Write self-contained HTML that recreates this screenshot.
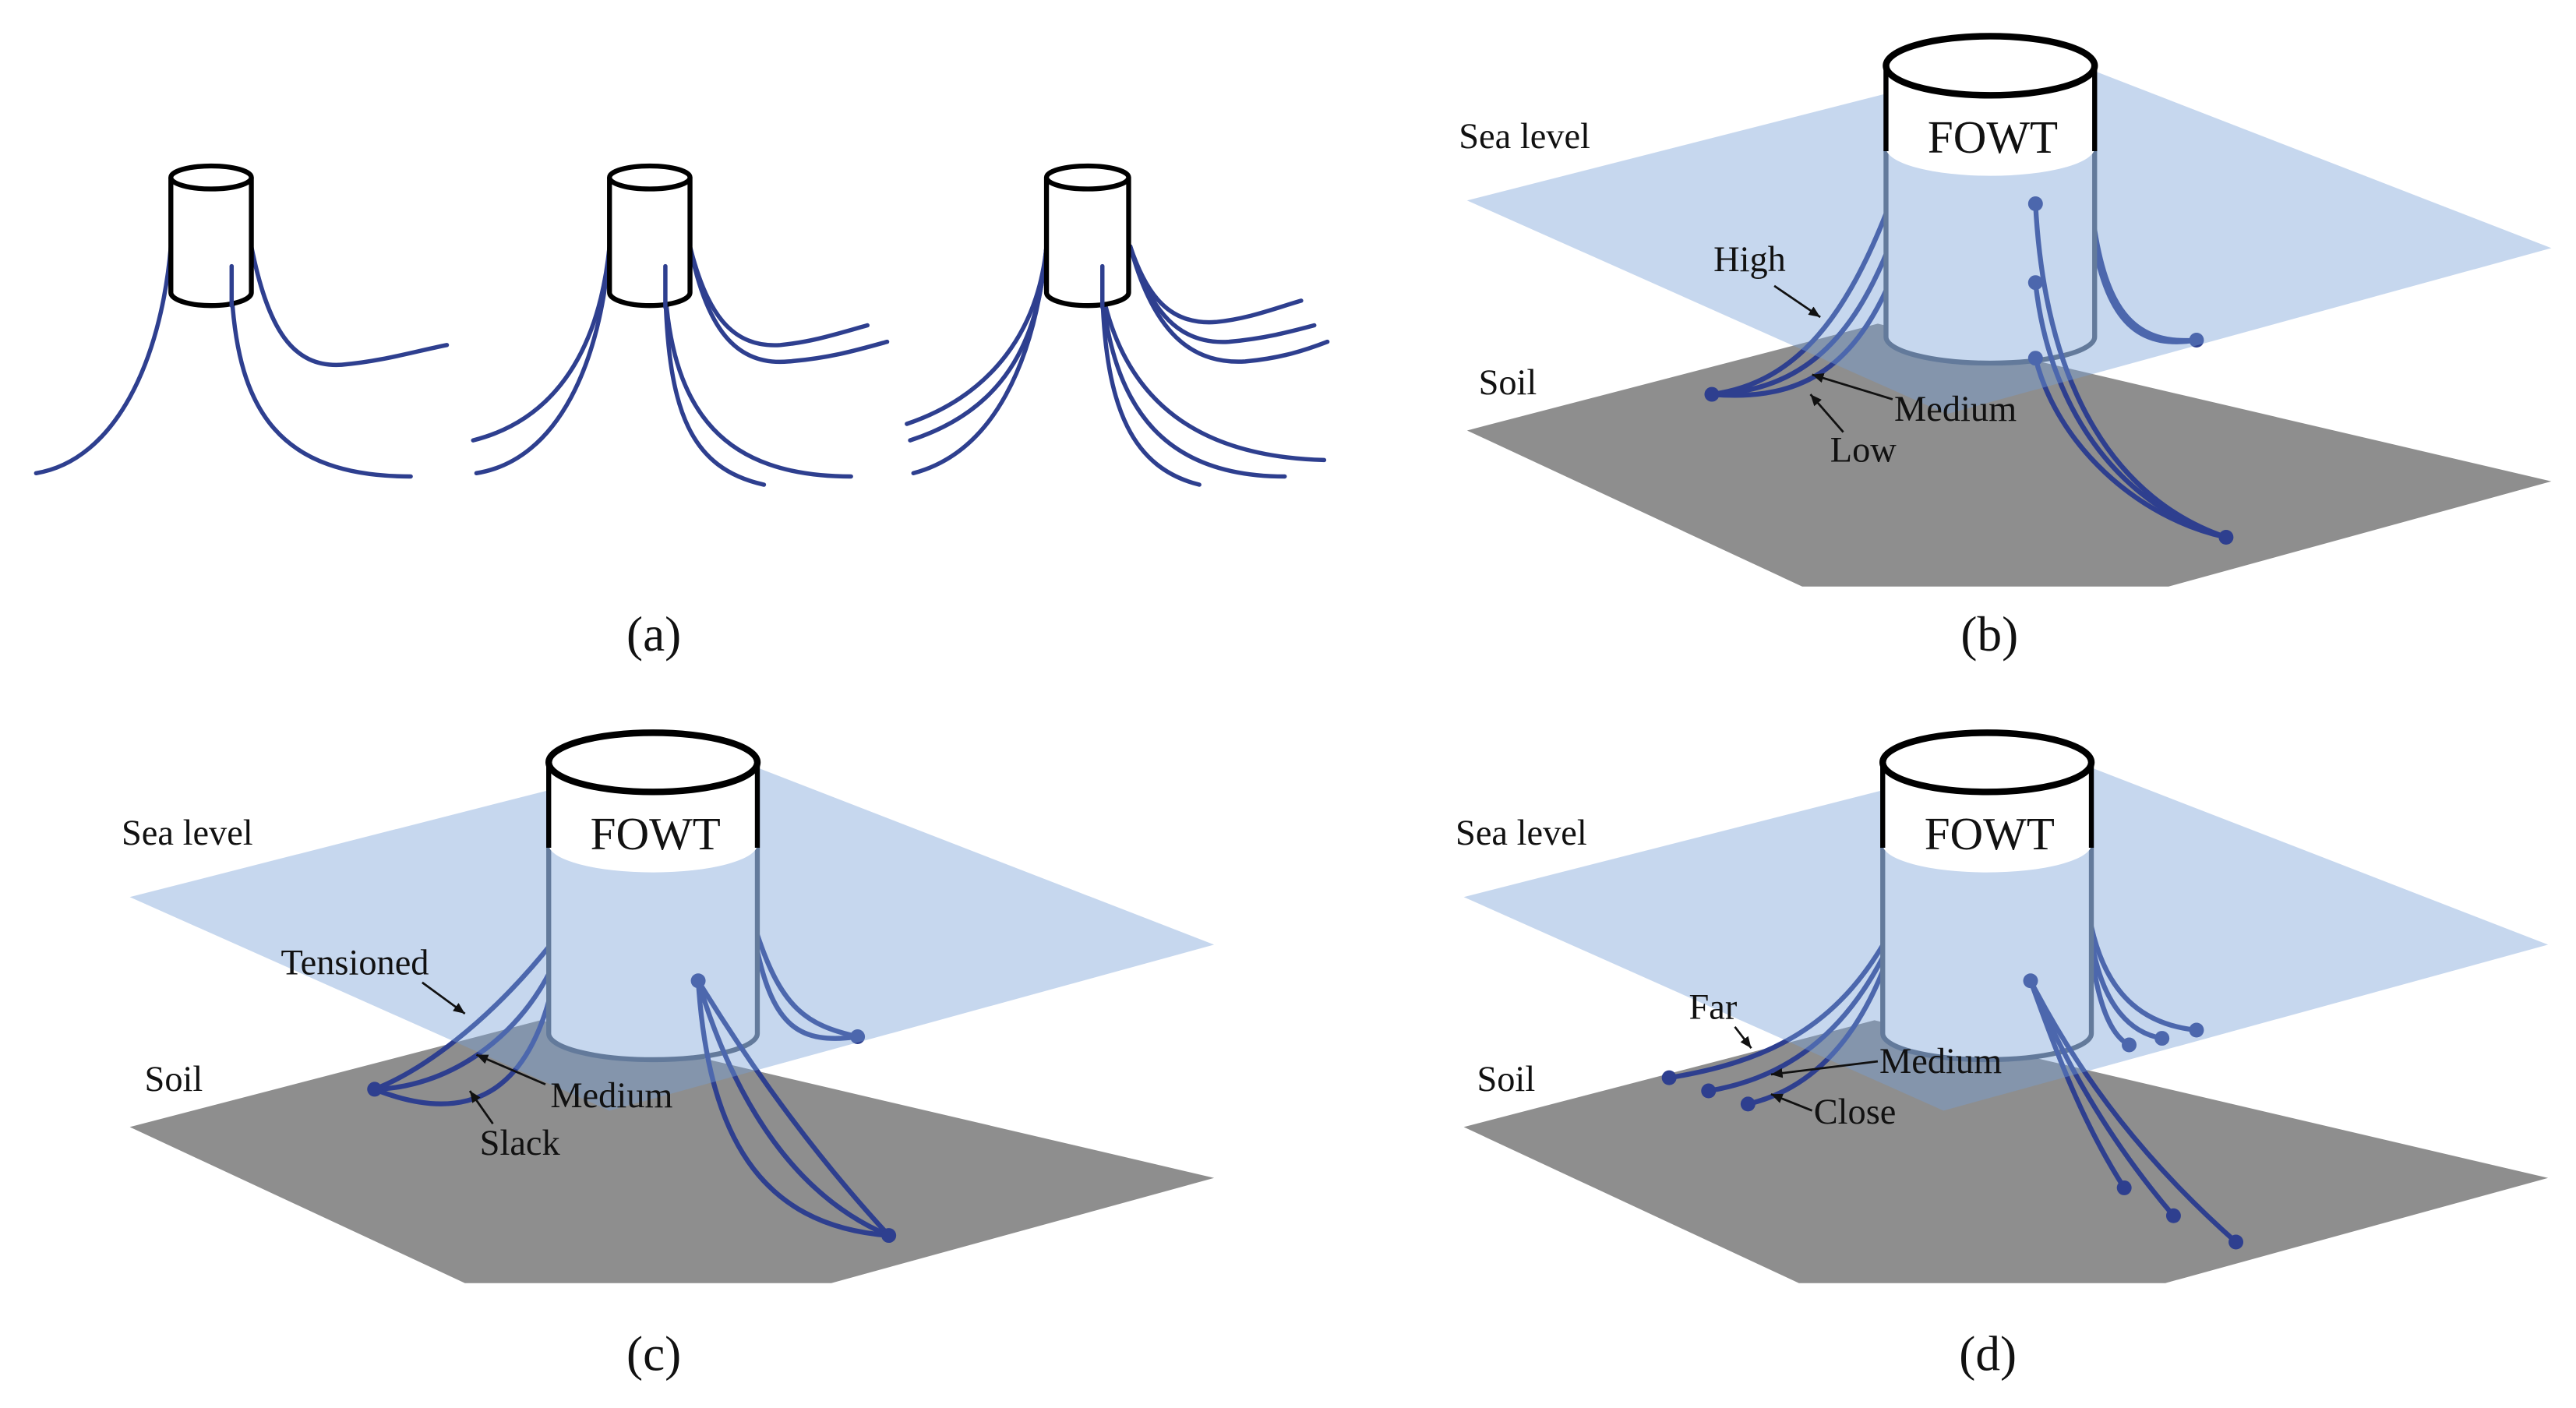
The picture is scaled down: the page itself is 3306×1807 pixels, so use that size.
<!DOCTYPE html>
<html><head><meta charset="utf-8"><style>
html,body{margin:0;padding:0;background:#fff;}
svg{display:block;}
text{font-family:"Liberation Serif",serif;fill:#111;}
</style></head><body>
<svg width="3306" height="1807" viewBox="0 0 1568 857" xmlns="http://www.w3.org/2000/svg">
<defs>
<marker id="ar" markerWidth="8" markerHeight="8" refX="7" refY="4" orient="auto" markerUnits="userSpaceOnUse">
<path d="M0,1 L7,4 L0,7 Z" fill="#111"/></marker>
</defs>

<!-- Panel (a) -->
<g fill="none" stroke="#2e3f8f" stroke-width="2.6" stroke-linecap="round">
<path d="M104,150 C98,220 70,280 22,288"/>
<path d="M141,178 C145,250 170,290 250,290"/>
<path d="M153,150 C163,200 178,224 208,222 C232,220 252,214 272,210"/>
<path d="M371,150 C365,210 340,255 288,268"/>
<path d="M371,150 C366,220 340,280 290,288"/>
<path d="M405,178 C407,250 420,285 465,295"/>
<path d="M405,178 C410,250 440,290 518,290"/>
<path d="M420,150 C430,190 445,212 475,210 C495,208 510,203 528,198"/>
<path d="M420,150 C430,200 448,223 480,220 C505,218 522,213 540,208"/>
<path d="M637,150 C632,200 605,240 552,258"/>
<path d="M637,150 C632,210 610,250 554,268"/>
<path d="M637,150 C630,220 605,275 556,288"/>
<path d="M671,178 C673,250 690,285 730,295"/>
<path d="M671,178 C678,250 710,290 782,290"/>
<path d="M671,178 C685,245 730,278 806,280"/>
<path d="M688,150 C698,180 712,198 740,196 C760,194 775,188 792,183"/>
<path d="M688,150 C700,190 718,210 748,208 C770,206 785,202 800,198"/>
<path d="M688,150 C702,202 725,222 758,220 C780,218 795,213 808,208"/>
</g>
<g fill="#fff" stroke="#000" stroke-width="3">
<path d="M104,108 L104,178 A24.5,8 0 0 0 153,178 L153,108" />
<ellipse cx="128.5" cy="108" rx="24.5" ry="7"/>
<path d="M371,108 L371,178 A24.5,8 0 0 0 420,178 L420,108" />
<ellipse cx="395.5" cy="108" rx="24.5" ry="7"/>
<path d="M637,108 L637,178 A25,8 0 0 0 687,178 L687,108" />
<ellipse cx="662" cy="108" rx="25" ry="7"/>
</g>
<g fill="none" stroke="#2e3f8f" stroke-width="2.6" stroke-linecap="round">
<path d="M141,162 L141,186"/><path d="M405,162 L405,187"/><path d="M671,162 L671,187"/>
</g>
<text x="398" y="396" font-size="30" text-anchor="middle">(a)</text>

<!-- Panel (b) -->
<g>
<polygon points="893,262 1143,197 1553,293 1320,357 1097,357" fill="#8e8e8e"/>
<g fill="none" stroke="#2e3f8f" stroke-width="3" stroke-linecap="round">
<path d="M1150,125 C1125,190 1095,233 1042,240"/>
<path d="M1150,150 C1128,205 1098,238 1042,240"/>
<path d="M1152,168 C1130,220 1100,245 1042,240"/>
<path d="M1275,140 C1283,190 1300,210 1337,207"/>
<path d="M1275,150 C1285,200 1305,212 1337,207"/>
</g>
<g fill="#2e3f8f"><circle cx="1042" cy="240" r="4.5"/><circle cx="1337" cy="207" r="4.5"/></g>
<path d="M1148,40 L1148,205 A63.5,16 0 0 0 1275,205 L1275,40 Z" fill="#fff" stroke="#556070" stroke-width="3"/>
<g fill="none" stroke="#2e3f8f" stroke-width="3" stroke-linecap="round">
<path d="M1239,124 C1245,240 1290,305 1355,327"/>
<path d="M1239,172 C1248,255 1295,310 1355,327"/>
<path d="M1239,218 C1252,270 1300,315 1355,327"/>
</g>
<g fill="#2e3f8f"><circle cx="1355" cy="327" r="4.5"/>
<circle cx="1239" cy="124" r="4.5"/><circle cx="1239" cy="172" r="4.5"/><circle cx="1239" cy="218" r="4.5"/></g>
<polygon points="893,122 1246,32 1553,151 1185,252" fill="rgb(120,160,215)" fill-opacity="0.42"/>
<path d="M1148,40 L1148,90 A63.5,17 0 0 0 1275,90 L1275,40 Z" fill="#fff"/>
<path d="M1148,40 L1148,92 M1275,40 L1275,92" stroke="#000" stroke-width="3"/>
<ellipse cx="1211.5" cy="40" rx="63.5" ry="18" fill="#fff" stroke="#000" stroke-width="4"/>
</g>
<text x="1213" y="93" font-size="28" text-anchor="middle">FOWT</text>
<text x="888" y="90" font-size="22">Sea level</text>
<text x="900" y="240" font-size="22">Soil</text>
<text x="1043" y="165" font-size="22">High</text>
<text x="1153" y="256" font-size="22">Medium</text>
<text x="1114" y="281" font-size="22">Low</text>
<g stroke="#111" stroke-width="1.3" fill="none" marker-end="url(#ar)">
<path d="M1080,174 L1108,193"/><path d="M1152,243 L1103,228"/><path d="M1122,263 L1102,240"/>
</g>
<text x="1211" y="396" font-size="30" text-anchor="middle">(b)</text>

<!-- Panel (c) -->
<g transform="translate(-814,424)">
<polygon points="893,262 1143,197 1553,293 1320,357 1097,357" fill="#8e8e8e"/>
<g fill="none" stroke="#2e3f8f" stroke-width="3" stroke-linecap="round">
<path d="M1150,150 C1110,200 1070,228 1042,239"/>
<path d="M1150,165 C1128,210 1085,238 1042,239"/>
<path d="M1150,178 C1135,240 1100,262 1042,239"/>
<path d="M1275,145 C1290,190 1305,200 1336,207"/>
<path d="M1275,155 C1285,200 1300,212 1336,207"/>
</g>
<g fill="#2e3f8f"><circle cx="1042" cy="239" r="4.5"/><circle cx="1336" cy="207" r="4.5"/></g>
<path d="M1148,40 L1148,205 A63.5,16 0 0 0 1275,205 L1275,40 Z" fill="#fff" stroke="#556070" stroke-width="3"/>
<g fill="none" stroke="#2e3f8f" stroke-width="3" stroke-linecap="round">
<path d="M1239,173 C1280,240 1320,290 1355,328"/>
<path d="M1239,173 C1245,265 1275,322 1355,328"/>
<path d="M1239,173 C1262,250 1300,305 1355,328"/>
</g>
<g fill="#2e3f8f"><circle cx="1355" cy="328" r="4.5"/><circle cx="1239" cy="173" r="4.5"/></g>
<polygon points="893,122 1246,32 1553,151 1185,252" fill="rgb(120,160,215)" fill-opacity="0.42"/>
<path d="M1148,40 L1148,90 A63.5,17 0 0 0 1275,90 L1275,40 Z" fill="#fff"/>
<path d="M1148,40 L1148,92 M1275,40 L1275,92" stroke="#000" stroke-width="3"/>
<ellipse cx="1211.5" cy="40" rx="63.5" ry="18" fill="#fff" stroke="#000" stroke-width="4"/>
</g>
<text x="399" y="517" font-size="28" text-anchor="middle">FOWT</text>
<text x="74" y="514" font-size="22">Sea level</text>
<text x="88" y="664" font-size="22">Soil</text>
<text x="171" y="593" font-size="22">Tensioned</text>
<text x="335" y="674" font-size="22">Medium</text>
<text x="292" y="703" font-size="22">Slack</text>
<g stroke="#111" stroke-width="1.3" fill="none" marker-end="url(#ar)">
<path d="M257,598 L283,617"/><path d="M332,660 L290,642"/><path d="M300,684 L286,664"/>
</g>
<text x="398" y="834" font-size="30" text-anchor="middle">(c)</text>

<!-- Panel (d) -->
<g transform="translate(-2,424)">
<polygon points="893,262 1143,197 1553,293 1320,357 1097,357" fill="#8e8e8e"/>
<g fill="none" stroke="#2e3f8f" stroke-width="3" stroke-linecap="round">
<path d="M1150,148 C1120,200 1080,222 1018,232"/>
<path d="M1150,155 C1125,205 1090,232 1042,240"/>
<path d="M1150,162 C1130,215 1100,240 1066,248"/>
<path d="M1275,140 C1285,185 1310,200 1339,203"/>
<path d="M1275,148 C1282,190 1300,205 1318,208"/>
<path d="M1275,155 C1280,195 1290,208 1298,212"/>
</g>
<g fill="#2e3f8f"><circle cx="1018" cy="232" r="4.5"/><circle cx="1042" cy="240" r="4.5"/><circle cx="1066" cy="248" r="4.5"/>
<circle cx="1339" cy="203" r="4.5"/><circle cx="1318" cy="208" r="4.5"/><circle cx="1298" cy="212" r="4.5"/></g>
<path d="M1148,40 L1148,205 A63.5,16 0 0 0 1275,205 L1275,40 Z" fill="#fff" stroke="#556070" stroke-width="3"/>
<g fill="none" stroke="#2e3f8f" stroke-width="3" stroke-linecap="round">
<path d="M1238,173 C1255,220 1270,260 1295,299"/>
<path d="M1238,173 C1262,230 1290,275 1325,316"/>
<path d="M1238,173 C1270,235 1310,285 1363,332"/>
</g>
<g fill="#2e3f8f"><circle cx="1295" cy="299" r="4.5"/><circle cx="1325" cy="316" r="4.5"/><circle cx="1363" cy="332" r="4.5"/><circle cx="1238" cy="173" r="4.5"/></g>
<polygon points="893,122 1246,32 1553,151 1185,252" fill="rgb(120,160,215)" fill-opacity="0.42"/>
<path d="M1148,40 L1148,90 A63.5,17 0 0 0 1275,90 L1275,40 Z" fill="#fff"/>
<path d="M1148,40 L1148,92 M1275,40 L1275,92" stroke="#000" stroke-width="3"/>
<ellipse cx="1211.5" cy="40" rx="63.5" ry="18" fill="#fff" stroke="#000" stroke-width="4"/>
</g>
<text x="1211" y="517" font-size="28" text-anchor="middle">FOWT</text>
<text x="886" y="514" font-size="22">Sea level</text>
<text x="899" y="664" font-size="22">Soil</text>
<text x="1028" y="620" font-size="22">Far</text>
<text x="1144" y="653" font-size="22">Medium</text>
<text x="1104" y="684" font-size="22">Close</text>
<g stroke="#111" stroke-width="1.3" fill="none" marker-end="url(#ar)">
<path d="M1056,625 L1066,638"/><path d="M1143,646 L1078,654"/><path d="M1103,676 L1078,666"/>
</g>
<text x="1210" y="834" font-size="30" text-anchor="middle">(d)</text>
</svg>
</body></html>
